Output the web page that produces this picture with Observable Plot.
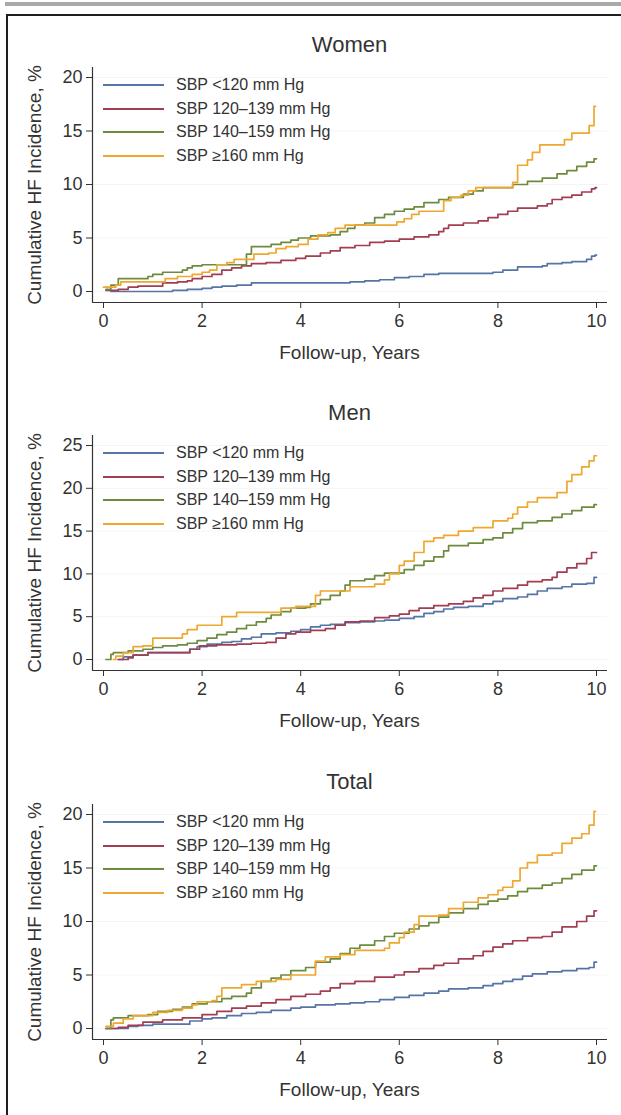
<!DOCTYPE html>
<html>
<head>
<meta charset="utf-8">
<script src="https://cdn.jsdelivr.net/npm/d3@7"></script>
<script src="https://cdn.jsdelivr.net/npm/@observablehq/plot@0.6"></script>
<style>
html, body { margin: 0; padding: 0; background: #fff; }
body { width: 621px; height: 1115px; position: relative; overflow: hidden;
  font-family: "Liberation Sans", Arial, Helvetica, sans-serif; color: #333; }
#bar { position: absolute; left: 5px; top: 2px; width: 616px; height: 4px; background: #a9a9a9; }
#box { position: absolute; left: 6px; top: 14px; width: 640px; height: 1130px;
  border-left: 2px solid #1e1e1e; border-top: 2px solid #1e1e1e; }
.panel { position: absolute; left: 0; width: 621px; height: 368px; }
.title { position: absolute; left: 92px; width: 515px; top: 32px; line-height: 26px;
  text-align: center; font-size: 22px; color: #333; }
.plotwrap { position: absolute; left: 0; top: 60px; }
.plotwrap svg { display: block; }
.xlabel { position: absolute; left: 92px; width: 515px; top: 341px; line-height: 24px;
  text-align: center; font-size: 19px; color: #333; }
.ylabel { position: absolute; left: 35px; top: 185px; white-space: nowrap; font-size: 19px;
  line-height: 22px; color: #333; transform: translate(-50%, -50%) rotate(-90deg); }
.legend { position: absolute; left: 103px; top: 73px; }
.legend .row { display: flex; align-items: center; height: 23.7px; }
.legend .sw { width: 61px; height: 0; border-top: 2px solid; margin-right: 12px; }
.legend .lab { font-size: 16px; color: #333; white-space: nowrap; }
</style>
</head>
<body>
<div id="bar"></div>
<div id="box"></div>
<div id="charts"></div>
<script>
// ---------- Data ----------
const panels = ["Women", "Men", "Total"];
const groups = ["SBP <120 mm Hg", "SBP 120\u2013139 mm Hg", "SBP 140\u2013159 mm Hg", "SBP \u2265160 mm Hg"];
const colors = ["#5575a6", "#a23d52", "#6c8b3e", "#eea72f"];
const xTicks = [0, 2, 4, 6, 8, 10];
const yTicksWomen = [0, 5, 10, 15, 20];
const yTicksMen = [0, 5, 10, 15, 20, 25];
const yTicksTotal = [0, 5, 10, 15, 20];
const xLabel = "Follow-up, Years";
const yLabel = "Cumulative HF Incidence, %";

// [years, cumulative incidence %] at each step
const womenLt120 = [[0.15,0],[1.4,0.1],[1.7,0.2],[2.0,0.3],[2.2,0.4],[2.4,0.5],[2.7,0.6],[3.0,0.8],[5.0,0.9],[5.3,1.0],[5.6,1.1],[5.9,1.3],[6.2,1.4],[6.5,1.6],[6.8,1.7],[7.9,1.8],[8.1,2.0],[8.4,2.3],[8.9,2.4],[9.0,2.6],[9.3,2.7],[9.5,2.8],[9.8,3.0],[9.9,3.3],[9.97,3.4],[10.0,3.4]];
const women120 = [[0.05,0.1],[0.3,0.2],[0.5,0.4],[0.7,0.5],[1.2,0.8],[1.5,0.9],[1.7,1.0],[1.8,1.2],[2.0,1.4],[2.2,1.6],[2.4,2.0],[2.6,2.2],[2.8,2.4],[3.0,2.6],[3.3,2.7],[3.6,2.9],[3.9,3.1],[4.1,3.3],[4.4,3.6],[4.6,3.8],[4.8,4.1],[5.1,4.3],[5.4,4.6],[5.7,4.7],[6.0,4.9],[6.3,5.1],[6.6,5.3],[6.8,5.6],[6.9,5.9],[7.0,6.2],[7.3,6.4],[7.6,6.6],[7.8,6.9],[8.0,7.2],[8.2,7.5],[8.4,7.8],[8.8,8.0],[9.0,8.2],[9.1,8.6],[9.3,8.8],[9.5,9.0],[9.7,9.3],[9.9,9.6],[9.97,9.7],[10.0,9.7]];
const women140 = [[0.05,0.2],[0.15,0.6],[0.3,1.2],[0.9,1.4],[1.0,1.6],[1.2,1.8],[1.6,2.0],[1.7,2.2],[1.8,2.4],[2.0,2.5],[2.9,3.5],[3.0,4.2],[3.4,4.4],[3.6,4.6],[3.8,4.8],[3.95,5.0],[4.2,5.2],[4.6,5.3],[4.8,5.6],[4.95,5.9],[5.1,6.2],[5.3,6.4],[5.5,6.9],[5.7,7.2],[5.9,7.5],[6.1,7.7],[6.3,7.9],[6.5,8.3],[6.8,8.6],[7.0,8.8],[7.3,9.1],[7.5,9.4],[7.7,9.7],[8.3,10.0],[8.6,10.3],[8.9,10.6],[9.2,11.0],[9.4,11.3],[9.6,11.7],[9.8,12.1],[9.95,12.4],[10.0,12.4]];
const women160 = [[0.0,0.4],[0.25,0.6],[0.35,0.9],[1.25,1.2],[1.5,1.4],[1.8,1.6],[2.0,1.8],[2.15,2.0],[2.3,2.5],[2.5,2.7],[2.65,3.0],[3.05,3.5],[3.35,3.6],[3.5,4.0],[3.7,4.2],[3.95,4.4],[4.15,4.9],[4.35,5.3],[4.55,5.5],[4.7,5.9],[4.9,6.2],[5.95,6.5],[6.1,6.8],[6.25,7.2],[6.4,7.5],[6.9,8.5],[7.05,8.8],[7.25,9.0],[7.4,9.4],[7.55,9.7],[8.3,10.2],[8.4,11.8],[8.6,12.3],[8.7,13.0],[8.85,13.7],[9.35,14.2],[9.5,14.8],[9.85,15.5],[9.95,17.3],[9.98,17.3]];

const menLt120 = [[0.3,0],[0.4,0.3],[0.6,0.5],[0.9,0.8],[1.75,1.2],[1.9,1.5],[2.1,1.8],[2.4,2.0],[2.6,2.1],[2.8,2.4],[3.0,2.6],[3.2,3.0],[3.5,3.1],[3.8,3.3],[4.0,3.5],[4.2,3.8],[4.4,4.0],[4.6,4.1],[4.9,4.3],[5.2,4.4],[5.5,4.5],[5.7,4.6],[6.0,4.8],[6.3,5.0],[6.5,5.4],[6.7,5.6],[6.9,5.9],[7.1,6.1],[7.4,6.2],[7.7,6.5],[7.9,6.8],[8.1,7.1],[8.4,7.3],[8.6,7.6],[8.8,8.0],[9.0,8.3],[9.3,8.5],[9.5,8.8],[9.8,8.9],[9.95,9.6],[10.0,9.6]];
const men120 = [[0.3,0],[0.5,0.2],[0.6,0.5],[0.9,0.8],[1.75,1.2],[1.95,1.6],[2.3,1.7],[2.7,1.8],[3.0,1.9],[3.3,2.0],[3.5,2.5],[3.7,3.0],[3.9,3.2],[4.2,3.4],[4.5,3.6],[4.7,4.0],[4.9,4.4],[5.2,4.5],[5.5,4.9],[5.8,5.1],[6.0,5.3],[6.2,5.7],[6.4,6.0],[6.7,6.3],[7.0,6.5],[7.3,6.8],[7.5,7.2],[7.7,7.5],[7.9,8.0],[8.1,8.3],[8.4,8.7],[8.6,9.1],[8.9,9.3],[9.1,9.6],[9.2,10.2],[9.4,10.7],[9.6,11.2],[9.8,11.8],[9.9,12.5],[10.0,12.5]];
const men140 = [[0.05,0],[0.15,0.6],[0.2,0.8],[0.5,1.0],[0.8,1.2],[1.0,1.4],[1.2,1.6],[1.5,1.7],[1.7,1.9],[1.9,2.2],[2.1,2.5],[2.3,2.9],[2.5,3.2],[2.7,3.6],[2.9,4.0],[3.1,4.4],[3.3,4.8],[3.4,5.2],[3.6,5.6],[3.8,6.0],[4.1,6.1],[4.2,6.5],[4.4,7.0],[4.6,7.5],[4.8,8.0],[4.9,8.7],[5.0,9.2],[5.3,9.4],[5.5,9.8],[5.7,10.1],[6.1,10.5],[6.3,11.0],[6.5,11.5],[6.7,12.0],[6.9,12.7],[7.0,13.3],[7.4,13.6],[7.7,14.0],[7.9,14.2],[8.1,14.8],[8.3,15.3],[8.5,16.0],[8.8,16.2],[9.1,16.6],[9.3,17.0],[9.5,17.4],[9.7,17.8],[9.95,18.1],[10.0,18.1]];
const men160 = [[0.2,0],[0.25,0.4],[0.4,0.8],[0.6,1.5],[0.8,1.6],[1.0,2.5],[1.6,3.0],[1.7,3.5],[1.9,4.0],[2.4,5.0],[2.7,5.5],[3.6,6.0],[3.9,6.2],[4.3,7.5],[4.4,8.0],[5.0,8.5],[5.5,8.8],[5.7,9.3],[5.8,10.0],[6.0,11.0],[6.1,11.5],[6.3,12.5],[6.5,13.8],[6.7,14.2],[6.9,14.5],[7.2,15.0],[7.5,15.4],[7.9,16.2],[8.2,16.5],[8.3,17.0],[8.4,17.8],[8.6,18.4],[8.8,18.9],[9.2,19.5],[9.4,20.8],[9.5,21.6],[9.7,22.5],[9.85,23.2],[9.95,23.8],[10.0,23.8]];

const totalLt120 = [[0.05,0],[0.5,0.2],[0.7,0.3],[1.0,0.4],[1.75,0.7],[2.0,0.9],[2.2,1.0],[2.5,1.2],[2.8,1.4],[3.1,1.5],[3.4,1.7],[3.8,1.9],[4.0,2.0],[4.3,2.2],[4.7,2.3],[5.0,2.4],[5.3,2.5],[5.6,2.7],[5.9,2.9],[6.2,3.1],[6.5,3.3],[6.8,3.5],[7.0,3.7],[7.4,3.8],[7.7,4.0],[7.9,4.2],[8.1,4.4],[8.3,4.6],[8.5,4.9],[8.7,5.1],[9.0,5.3],[9.3,5.4],[9.6,5.6],[9.85,5.7],[9.95,6.2],[10.0,6.2]];
const total120 = [[0.05,0],[0.3,0.1],[0.5,0.3],[0.8,0.6],[1.2,0.8],[1.6,1.0],[2.0,1.3],[2.3,1.6],[2.6,1.9],[2.9,2.1],[3.2,2.4],[3.5,2.7],[3.8,3.0],[4.1,3.2],[4.4,3.5],[4.6,3.8],[4.8,4.2],[5.1,4.4],[5.5,4.8],[5.9,5.0],[6.1,5.3],[6.4,5.6],[6.7,5.9],[6.9,6.1],[7.2,6.5],[7.5,6.8],[7.7,7.2],[7.9,7.6],[8.1,7.9],[8.3,8.2],[8.6,8.5],[8.9,8.6],[9.1,9.0],[9.3,9.5],[9.6,10.0],[9.8,10.5],[9.95,11.0],[10.0,11.0]];
const total140 = [[0.05,0],[0.15,0.8],[0.2,1.0],[0.5,1.2],[0.9,1.3],[1.1,1.6],[1.4,1.8],[1.6,2.0],[1.8,2.3],[2.1,2.5],[2.4,2.8],[2.6,3.0],[2.9,3.3],[3.0,3.8],[3.2,4.4],[3.4,4.7],[3.6,5.0],[3.8,5.4],[4.1,5.7],[4.3,6.2],[4.6,6.5],[4.8,7.0],[5.0,7.5],[5.2,7.8],[5.5,8.2],[5.7,8.6],[5.9,8.9],[6.2,9.3],[6.4,9.6],[6.6,9.9],[6.8,10.4],[7.0,10.8],[7.3,11.2],[7.6,11.6],[7.8,11.9],[8.0,12.1],[8.2,12.4],[8.4,12.8],[8.6,13.1],[8.9,13.4],[9.1,13.6],[9.3,14.0],[9.5,14.4],[9.7,14.8],[9.95,15.2],[10.0,15.2]];
const total160 = [[0.05,0.2],[0.2,0.5],[0.4,0.9],[0.6,1.2],[1.0,1.5],[1.3,1.7],[1.6,1.9],[1.8,2.2],[1.9,2.5],[2.2,2.6],[2.3,3.0],[2.4,3.8],[2.8,4.1],[3.1,4.4],[3.5,4.6],[3.8,5.0],[4.3,6.3],[4.5,6.7],[4.8,6.9],[5.1,7.3],[5.7,7.5],[5.8,8.0],[6.0,8.5],[6.1,9.0],[6.3,9.7],[6.4,10.5],[6.8,10.6],[7.0,11.2],[7.3,11.8],[7.6,12.2],[7.8,12.5],[8.0,12.9],[8.1,13.2],[8.3,13.8],[8.45,15.0],[8.6,15.5],[8.8,16.2],[9.1,16.4],[9.3,17.3],[9.5,17.8],[9.7,18.2],[9.85,19.0],[9.95,20.3],[9.98,20.3]];

// ---------- Build ----------
const panelSeries = {
  Women: [womenLt120, women120, women140, women160],
  Men: [menLt120, men120, men140, men160],
  Total: [totalLt120, total120, total140, total160]
};
const panelTicks = { Women: yTicksWomen, Men: yTicksMen, Total: yTicksTotal };
const panelTop = { Women: 0, Men: 368, Total: 737 };

const charts = document.getElementById("charts");

for (const name of panels) {
  const rows = [];
  panelSeries[name].forEach((s, i) => {
    for (const [t, v] of s) rows.push({ t, v, group: groups[i] });
  });
  const yTicks = panelTicks[name];

  const panel = document.createElement("div");
  panel.className = "panel";
  panel.style.top = panelTop[name] + "px";

  const title = document.createElement("div");
  title.className = "title";
  title.textContent = name;
  panel.appendChild(title);

  const chart = Plot.plot({
    width: 621,
    height: 310,
    marginLeft: 92,
    marginRight: 14,
    marginTop: 7,
    marginBottom: 68,
    insetLeft: 11,
    insetRight: 11,
    insetTop: 10,
    insetBottom: 11,
    x: { domain: [0, 10] },
    y: { domain: [0, yTicks[yTicks.length - 1]] },
    color: { domain: groups, range: colors },
    style: { background: "transparent", color: "#333", fontFamily: '"Liberation Sans", Arial, sans-serif', overflow: "visible" },
    marks: [
      Plot.gridY(yTicks, { stroke: "#000", strokeOpacity: 0.045, strokeWidth: 1 }),
      Plot.axisX(xTicks, { tickSize: 6, tickPadding: 6, label: null, fontSize: 18, fill: "#333", stroke: "#333", tickFormat: d => String(d) }),
      Plot.axisY(yTicks, { tickSize: 6, tickPadding: 4, label: null, fontSize: 18, fill: "#333", stroke: "#333", tickFormat: d => String(d) }),
      Plot.ruleY([0], { dy: 11, stroke: "#333", strokeWidth: 1.2 }),
      Plot.ruleX([0], { dx: -11, stroke: "#333", strokeWidth: 1.2 }),
      Plot.line(rows, { x: "t", y: "v", z: "group", stroke: "group", curve: "step-after", strokeWidth: 1.7 })
    ]
  });
  const wrap = document.createElement("div");
  wrap.className = "plotwrap";
  wrap.appendChild(chart);
  panel.appendChild(wrap);

  const legend = document.createElement("div");
  legend.className = "legend";
  groups.forEach((g, i) => {
    const row = document.createElement("div");
    row.className = "row";
    const sw = document.createElement("span");
    sw.className = "sw";
    sw.style.borderTopColor = colors[i];
    const lab = document.createElement("span");
    lab.className = "lab";
    lab.textContent = g;
    row.appendChild(sw);
    row.appendChild(lab);
    legend.appendChild(row);
  });
  panel.appendChild(legend);

  const xl = document.createElement("div");
  xl.className = "xlabel";
  xl.textContent = xLabel;
  panel.appendChild(xl);

  const yl = document.createElement("div");
  yl.className = "ylabel";
  yl.textContent = yLabel;
  panel.appendChild(yl);

  charts.appendChild(panel);
}
</script>
</body>
</html>
